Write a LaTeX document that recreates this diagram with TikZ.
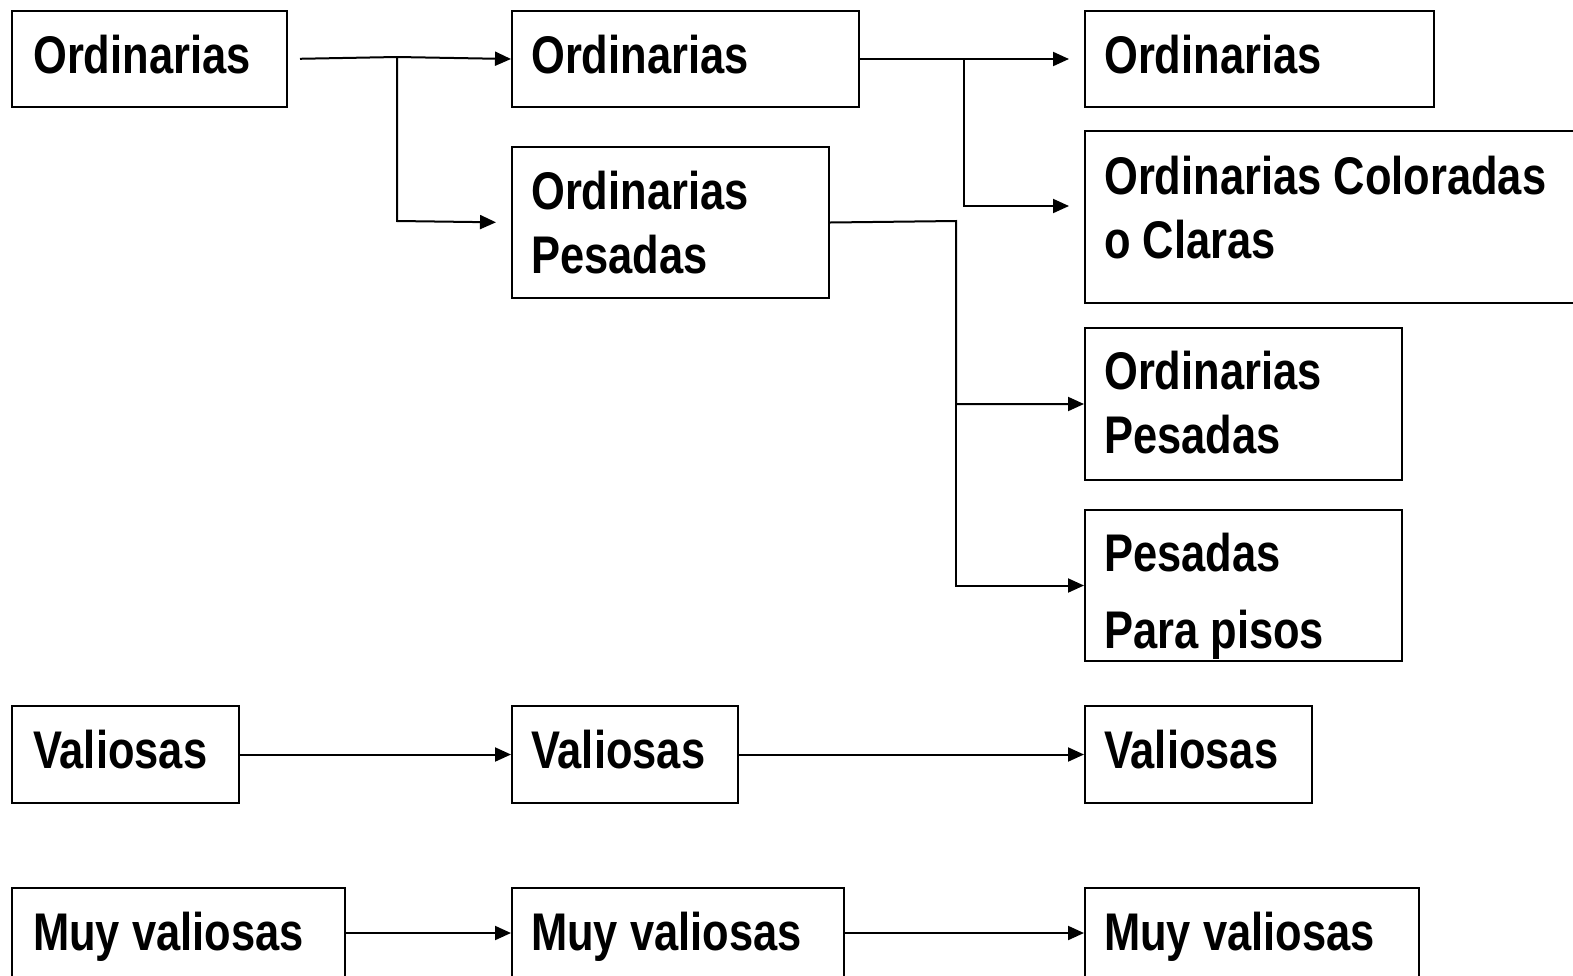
\documentclass[tikz,border=0pt]{standalone}
\usepackage{fontspec}
\setmainfont[FakeStretch=0.82]{Liberation Sans}
\usetikzlibrary{arrows.meta}
\tikzset{
  box/.style={draw, line width=2pt, rectangle, inner sep=0pt, anchor=north west},
  lbl/.style={anchor=base west, inner sep=0pt, align=left, font=\fontsize{53}{64}\selectfont\bfseries},
  conn/.style={line width=2pt},
  arr/.style={line width=2pt, -{Triangle[length=16pt,width=14pt]}}
}
\begin{document}
\begin{tikzpicture}[x=1pt,y=-1pt]
\useasboundingbox (0,0) rectangle (1573,975);
\clip (0,0) rectangle (1573,975);
% column A
\node[box, minimum width=275pt, minimum height=96pt] (a1) at (11,10) {};
\node[box, minimum width=227pt, minimum height=97pt] (a2) at (11,705) {};
\node[box, minimum width=333pt, minimum height=92pt] (a3) at (11,887) {};
% column B
\node[box, minimum width=347pt, minimum height=96pt] (b1) at (511,10) {};
\node[box, minimum width=317pt, minimum height=151pt] (b2) at (511,146) {};
\node[box, minimum width=226pt, minimum height=97pt] (b3) at (511,705) {};
\node[box, minimum width=332pt, minimum height=92pt] (b4) at (511,887) {};
% column C
\node[box, minimum width=349pt, minimum height=96pt] (c1) at (1084,10) {};
\node[box, minimum width=500pt, minimum height=172pt] (c2) at (1084,130) {};
\node[box, minimum width=317pt, minimum height=152pt] (c3) at (1084,327) {};
\node[box, minimum width=317pt, minimum height=151pt] (c4) at (1084,509) {};
\node[box, minimum width=227pt, minimum height=97pt] (c5) at (1084,705) {};
\node[box, minimum width=334pt, minimum height=92pt] (c6) at (1084,887) {};
% labels (multi-line: base = last line)
\node[lbl] (a1t) at (33,73) {Ordinarias};
\node[lbl] (a2t) at (33,768) {Valiosas};
\node[lbl] (a3t) at (33,950) {Muy valiosas};
\node[lbl] (b1t) at (531,73) {Ordinarias};
\node[lbl] (b2t) at (531,273) {Ordinarias\\Pesadas};
\node[lbl] (b3t) at (531,768) {Valiosas};
\node[lbl] (b4t) at (531,950) {Muy valiosas};
\node[lbl] (c1t) at (1104,73) {Ordinarias};
\node[lbl] (c2t) at (1104,258) {Ordinarias Coloradas\\o Claras};
\node[lbl] (c3t) at (1104,453) {Ordinarias\\Pesadas};
\node[lbl] (c4t) at (1104,648) {Pesadas\\[13pt]Para pisos};
\node[lbl] (c5t) at (1104,768) {Valiosas};
\node[lbl] (c6t) at (1104,950) {Muy valiosas};
% connectors
\coordinate (j1) at (397,57);
\coordinate (j1b) at (397,221);
\coordinate (j2) at (964,58);
\coordinate (j2b) at (1069,206);
\coordinate (j3) at (956,221);
\draw[conn, shorten <=12pt] (a1.east) -- (j1);
\draw[arr] (j1) -- (b1.west);
\draw[arr, shorten >=15pt] (j1) -- (j1b) -- (b2.west);
\draw[arr, shorten >=15pt] (b1.east) -- (c1.west);
\draw[arr] (j2) |- (j2b);
\draw[arr] (b2.east) -- (j3) |- (c3.west);
\draw[arr] (j3) |- (c4.west);
\draw[arr] (a2.east) -- (b3.west);
\draw[arr] (b3.east) -- (c5.west);
\draw[arr] (a3.east |- 0,933) -- (b4.west |- 0,933);
\draw[arr] (b4.east |- 0,933) -- (c6.west |- 0,933);
\end{tikzpicture}
\end{document}
